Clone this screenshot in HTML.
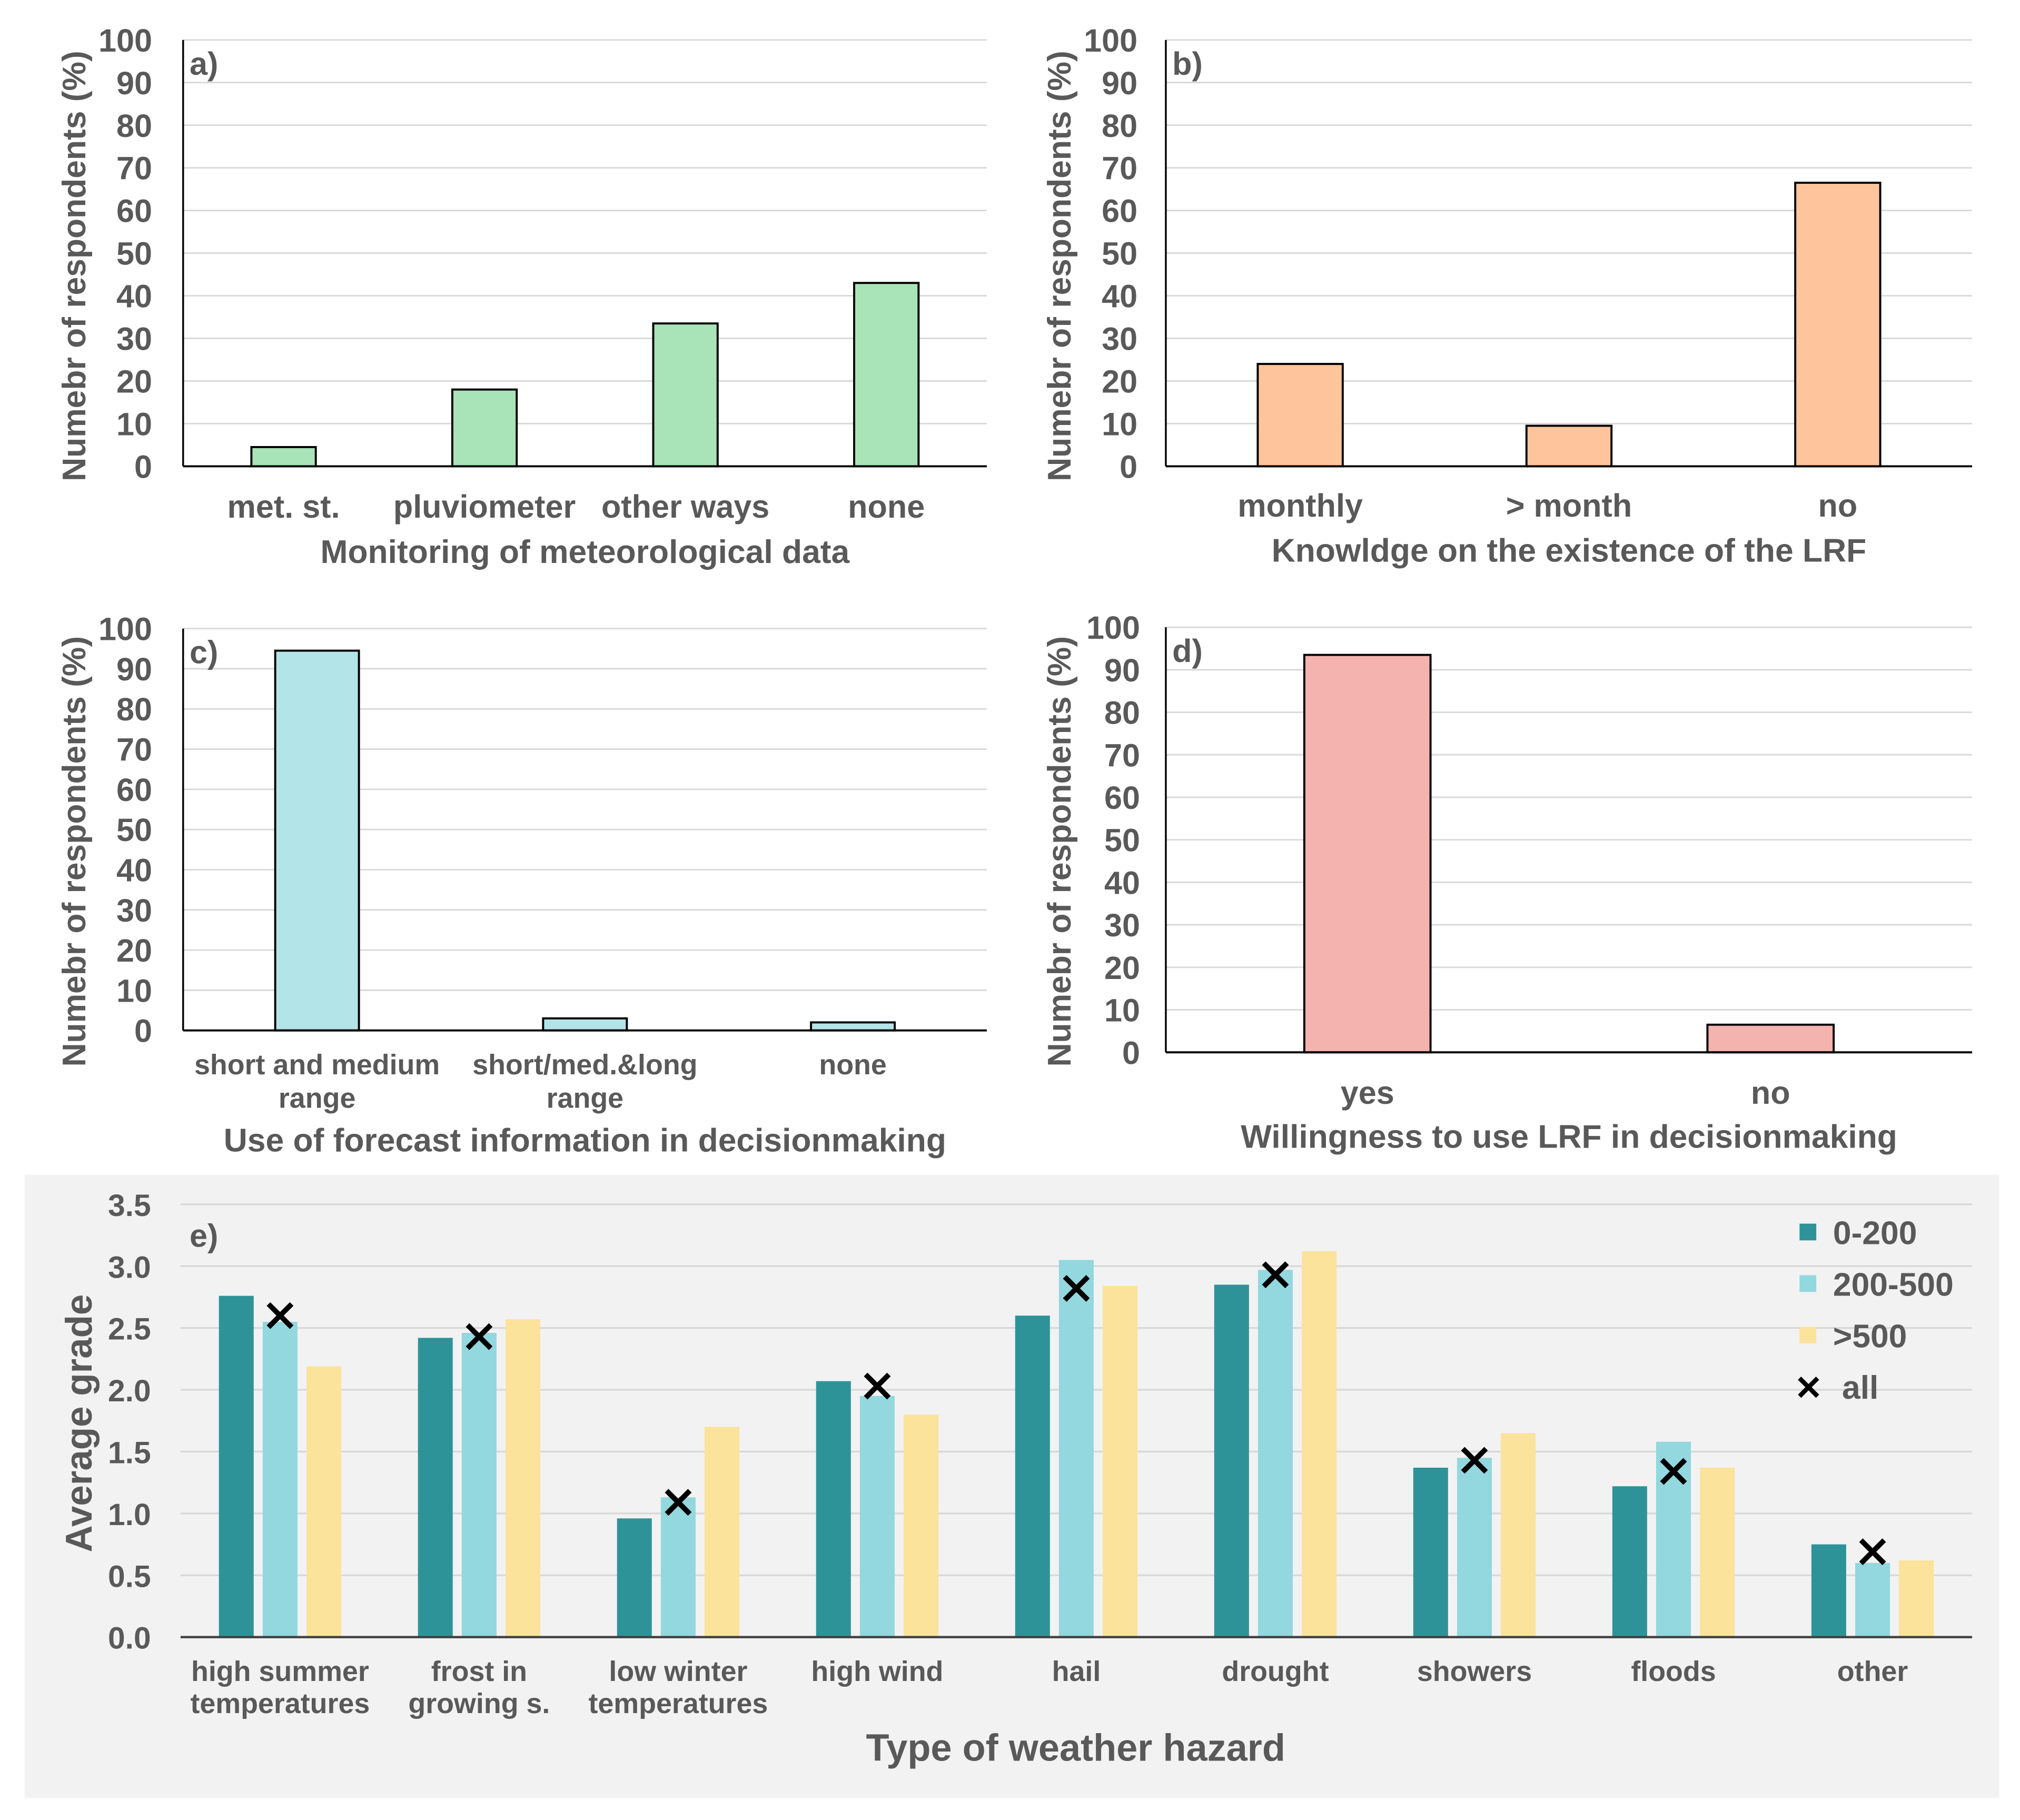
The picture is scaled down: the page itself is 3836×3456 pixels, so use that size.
<!DOCTYPE html>
<html><head><meta charset="utf-8"><style>
html,body{margin:0;padding:0;background:#fff;}
svg{display:block;font-family:"Liberation Sans",sans-serif;font-weight:bold;}
</style></head><body>
<svg id="fig" width="3836" height="3456" viewBox="0 0 1568 1413" xmlns="http://www.w3.org/2000/svg">
<rect x="0" y="0" width="1568" height="1413" fill="#fff"/>
<rect x="19" y="912" width="1533" height="484" fill="#f2f2f2"/>
<g id="root"></g>
</svg>
<script>
const catsA = ["met. st.", "pluviometer", "other ways", "none"];
const valsA = [4.5, 18, 33.5, 43];
const catsB = ["monthly", "> month", "no"];
const valsB = [24, 9.5, 66.5];
const catsC = [["short and medium","range"], ["short/med.&long","range"], ["none"]];
const valsC = [94.5, 3, 2];
const catsD = ["yes", "no"];
const valsD = [93.5, 6.5];
const pctTicks = [0,10,20,30,40,50,60,70,80,90,100];
const catsE = [["high summer","temperatures"],["frost in","growing s."],["low winter","temperatures"],["high wind"],["hail"],["drought"],["showers"],["floods"],["other"]];
const e0_200 = [2.76, 2.42, 0.96, 2.07, 2.60, 2.85, 1.37, 1.22, 0.75];
const e200_500 = [2.55, 2.46, 1.13, 1.95, 3.05, 2.97, 1.45, 1.58, 0.60];
const e500 = [2.19, 2.57, 1.70, 1.80, 2.84, 3.12, 1.65, 1.37, 0.62];
const eAll = [2.60, 2.43, 1.09, 2.03, 2.82, 2.93, 1.43, 1.34, 0.69];
const eTicks = [0,0.5,1,1.5,2,2.5,3,3.5];
const seriesNames = ["0-200","200-500",">500"];

const NS="http://www.w3.org/2000/svg";
const root=document.getElementById('root');
const GREY="#595959";
function mk(tag,attrs,parent){const e=document.createElementNS(NS,tag);for(const k in attrs)e.setAttribute(k,attrs[k]);(parent||root).appendChild(e);return e;}
function txt(s,attrs,parent){const e=mk('text',attrs,parent);e.textContent=s;return e;}

function barPanel(o){
  const g=mk('g',{});
  
  
  const y=v=>o.y0-(v-o.min)/(o.max-o.min)*(o.y0-o.y1);
  o.ticks.forEach(t=>{
    if(t>o.min){const l=mk('line',{x1:o.x0,x2:o.x1,y1:y(t),y2:y(t),stroke:"#d9d9d9","stroke-width":1.2},g);
    
    }
    const tl=txt(String(t),{x:o.tickX,y:y(t)+9,"text-anchor":"end","font-size":25,fill:GREY},g);
    
    
  });
  const n=o.cats.length, step=(o.x1-o.x0)/n;
  o.vals.forEach((v,i)=>{
    const cx=o.x0+step*(i+0.5);
    const r=mk('rect',{x:cx-o.bw/2,y:y(v),width:o.bw,height:o.y0-y(v),fill:o.color,stroke:"#000","stroke-width":1.6},g);
    
    
    const lines=Array.isArray(o.cats[i])?o.cats[i]:[o.cats[i]];
    lines.forEach((s,j)=>{
      const c=txt(s,{x:cx,y:o.catY+j*o.catLH,"text-anchor":"middle","font-size":o.catFS,fill:GREY},g);
      
      
    });
  });
  const ax=mk('line',{x1:o.x0,x2:o.x1,y1:o.y0,y2:o.y0,stroke:"#000","stroke-width":1.6},g);
  
  
  const ay=mk('line',{x1:o.x0,x2:o.x0,y1:o.y0,y2:o.y1,stroke:"#000","stroke-width":1.4},g);
  
  
  const t=txt(o.title,{x:(o.x0+o.x1)/2,y:o.titleY,"text-anchor":"middle","font-size":25.5,fill:GREY},g);
  
  
  const ym=(o.y0+o.y1)/2+o.ylShift;
  const yl=txt(o.ylabel,{x:o.ylX,y:ym,"text-anchor":"middle","font-size":25.5,fill:GREY,transform:`rotate(-90 ${o.ylX} ${ym})`},g);
  
  
  const pl=txt(o.letter,{x:o.x0+5,y:o.y1+27,"font-size":25,fill:GREY},g);
  
  
}

barPanel({name:'chart-a',x0:142,x1:766,y0:362,y1:31,min:0,max:100,ticks:pctTicks,tickX:118,cats:catsA,vals:valsA,bw:50,color:"#a8e4b8",catY:402,catLH:0,catFS:25,title:"Monitoring of meteorological data",titleY:437,ylabel:"Numebr of respondents (%)",ylX:66,ylShift:10,letter:"a)"});
barPanel({name:'chart-b',x0:905,x1:1531,y0:362,y1:31,min:0,max:100,ticks:pctTicks,tickX:883,cats:catsB,vals:valsB,bw:66,color:"#fec49b",catY:401,catLH:0,catFS:25,title:"Knowldge on the existence of the LRF",titleY:436,ylabel:"Numebr of respondents (%)",ylX:831,ylShift:10,letter:"b)"});
barPanel({name:'chart-c',x0:142,x1:766,y0:800,y1:488,min:0,max:100,ticks:pctTicks,tickX:118,cats:catsC,vals:valsC,bw:65,color:"#b3e4e8",catY:834,catLH:26,catFS:22,title:"Use of forecast information in decisionmaking",titleY:894,ylabel:"Numebr of respondents (%)",ylX:66,ylShift:17,letter:"c)"});
barPanel({name:'chart-d',x0:905,x1:1531,y0:817,y1:487,min:0,max:100,ticks:pctTicks,tickX:885,cats:catsD,vals:valsD,bw:98,color:"#f4b3ae",catY:857,catLH:0,catFS:25,title:"Willingness to use LRF in decisionmaking",titleY:891,ylabel:"Numebr of respondents (%)",ylX:831,ylShift:9,letter:"d)"});

(function(){
  const g=mk('g',{});
  
  
  const x0=140,x1=1531,y0=1271,y1=935;
  const y=v=>y0-v/3.5*(y0-y1);
  eTicks.forEach(t=>{
    if(t>0){const l=mk('line',{x1:x0,x2:x1,y1:y(t),y2:y(t),stroke:"#d9d9d9","stroke-width":1.4},g);
    
    }
    const tl=txt(t.toFixed(1),{x:117,y:y(t)+9,"text-anchor":"end","font-size":24,fill:GREY},g);
    
    
  });
  const step=(x1-x0)/catsE.length, bw=27, off=[-34,0,34];
  const cols=["#2e9399","#93d7df","#fbe39b"];
  const series=[e0_200,e200_500,e500];
  catsE.forEach((c,i)=>{
    const cx=x0+step*(i+0.5);
    series.forEach((s,k)=>{
      const r=mk('rect',{x:cx+off[k]-bw/2,y:y(s[i]),width:bw,height:y0-y(s[i]),fill:cols[k]},g);
      
      
    });
    const my=y(eAll[i]);
    const m=mk('path',{d:`M${cx-9} ${my-9}L${cx+9} ${my+9}M${cx+9} ${my-9}L${cx-9} ${my+9}`,stroke:"#000","stroke-width":4},g);
    
    
    c.forEach((s,j)=>{
      const t=txt(s,{x:cx,y:1305+j*25,"text-anchor":"middle","font-size":22,fill:GREY},g);
      
      
    });
  });
  const ax=mk('line',{x1:x0,x2:x1,y1:y0,y2:y0,stroke:"#404040","stroke-width":1.8},g);
  
  
  const t=txt("Type of weather hazard",{x:835,y:1367,"text-anchor":"middle","font-size":29.5,fill:GREY},g);
  
  
  const yl=txt("Average grade",{x:71,y:1105,"text-anchor":"middle","font-size":29,fill:GREY,transform:"rotate(-90 71 1105)"},g);
  
  
  const pl=txt("e)",{x:147,y:968,"font-size":25,fill:GREY},g);
  
  
  const legY=[957,997,1037,1077];
  seriesNames.forEach((n,k)=>{
    const r=mk('rect',{x:1397,y:legY[k]-7,width:13,height:13,fill:cols[k]},g);
    
    
    const lt=txt(n,{x:1423,y:legY[k]+9,"font-size":25.5,fill:GREY},g);
    
    
  });
  const cx=1404,cy=legY[3];
  const lm=mk('path',{d:`M${cx-7} ${cy-7}L${cx+7} ${cy+7}M${cx+7} ${cy-7}L${cx-7} ${cy+7}`,stroke:"#000","stroke-width":3.5},g);
  
  
  const la=txt("all",{x:1430,y:cy+9,"font-size":25.5,fill:GREY},g);
  
  
})();
</script>
</body></html>
